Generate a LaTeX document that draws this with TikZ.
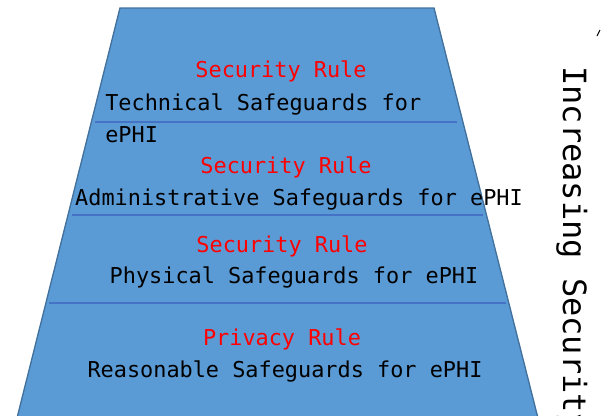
\documentclass[tikz,border=0pt]{standalone}
\usepackage{fontspec}
\newfontfamily\monofont{DejaVu Sans Mono}
\definecolor{pyrfill}{HTML}{5B9BD5}
\definecolor{pyredge}{HTML}{41719C}
\definecolor{pyrline}{HTML}{4472C4}
\begin{document}
\begin{tikzpicture}[x=0.75pt, y=-0.75pt,
    rulelabel/.style={anchor=base, inner sep=0pt, text=red, font=\monofont\fontsize{16.4}{18}\selectfont},
    safelabel/.style={anchor=base, inner sep=0pt, text=black, font=\monofont\fontsize{16.4}{18}\selectfont}]

    \useasboundingbox (0, 0) rectangle (601, 415);

    % pyramid
    \fill[pyrfill] (120, 8) -- (434, 8) -- (541, 430) -- (14, 430) -- cycle;
    \draw[pyredge, line width=1pt] (14, 430) -- (120, 8) -- (434, 8) -- (541, 430);

    \draw[pyrline, line width=1.2pt] (95, 122) -- (457, 122);
    \draw[pyrline, line width=1.2pt] (72, 215) -- (483, 215);
    \draw[pyrline, line width=1.2pt] (49, 303) -- (506, 303);

    % technical
    \node[rulelabel] (secA) at (281, 77) {Security Rule};
    \node[safelabel, anchor=base west] (techA) at (105, 110) {Technical Safeguards for};
    \node[safelabel, anchor=base west] (techB) at (105, 142) {ePHI};

    % administrative
    \node[rulelabel] (secB) at (286, 173) {Security Rule};
    \node[safelabel] (admin) at (299, 205) {Administrative Safeguards for ePHI};

    % physical
    \node[rulelabel] (secC) at (282, 252) {Security Rule};
    \node[safelabel] (phys) at (294, 283) {Physical Safeguards for ePHI};

    % privacy
    \node[rulelabel] (priv) at (282, 345) {Privacy Rule};
    \node[safelabel] (reas) at (285, 377) {Reasonable Safeguards for ePHI};

    % side label
    \node[anchor=base west, inner sep=0pt, rotate=-90, font=\monofont\fontsize{24}{26}\selectfont] (incr) at (563, 66) {Increasing Security};
    \draw[black, line width=0.8pt] (597, 36) -- (600, 30);

\end{tikzpicture}
\end{document}
